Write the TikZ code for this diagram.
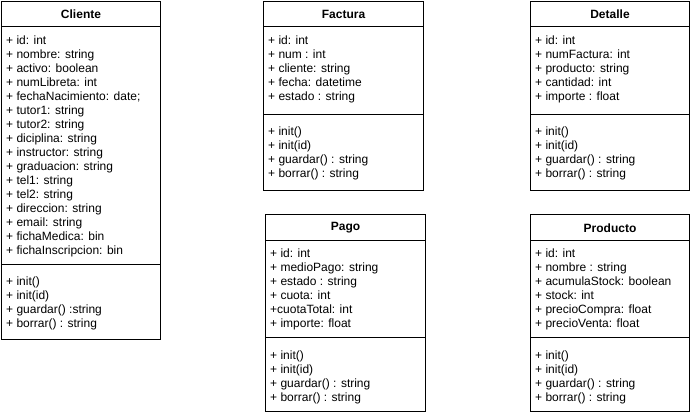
\documentclass[tikz,border=0pt]{standalone}
\usepackage{fontspec}
\setmainfont{Liberation Sans}
\tikzset{
  classbox/.style={draw=black, line width=1pt, fill=white, inner sep=0, outer sep=0},
  classtitle/.style={inner sep=0, font=\fontsize{12}{14}\selectfont\bfseries},
  member/.style={anchor=base west, inner sep=0, font=\fontsize{12}{14}\selectfont},
  sepline/.style={draw=black, line width=1pt}
}
% #1 prefix, #2 x, #3 centre y of first line, #4 list of lines
\newcommand\umlmembers[4]{%
  \foreach \t [count=\i] in {#4} {%
    \node[member] (#1-\i) at (#2, #3+14*\i-14+4.3) {\t};
  }%
}
% #1 name, #2 left, #3 top, #4 right, #5 bottom, #6 header bottom, #7 separator, #8 title
\newcommand\umlbox[8]{%
  \node[classbox, minimum width=#4-#2, minimum height=#5-#3] (#1) at ({(#2+#4)/2},{(#3+#5)/2}) {};
  \coordinate (#1-h) at (#2,#6);
  \coordinate (#1-s) at (#2,#7);
  \draw[sepline] (#1-h) -- (#1-h -| #1.east);
  \draw[sepline] (#1-s) -- (#1-s -| #1.east);
  \node[classtitle] (#1-title) at ({(#2+#4)/2},{(#3+#6)/2+0.5}) {#8};
}
\begin{document}
\begin{tikzpicture}[x=1pt,y=-1pt]
\useasboundingbox (0,0) rectangle (691,417);

% Cliente
\umlbox{cliente}{1.5}{1.5}{160.5}{339.5}{26.5}{264.5}{Cliente}
\umlmembers{cliente-a}{6}{40}{{+ id: int},{+ nombre: string},{+ activo: boolean},{+ numLibreta: int},{+ fechaNacimiento: date;},{+ tutor1: string},{+ tutor2: string},{+ diciplina: string},{+ instructor: string},{+ graduacion: string},{+ tel1: string},{+ tel2: string},{+ direccion: string},{+ email: string},{+ fichaMedica: bin},{+ fichaInscripcion: bin}}
\umlmembers{cliente-m}{6}{281}{{+ init()},{+ init(id)},{+ guardar() :string},{+ borrar() : string}}

% Factura
\umlbox{factura}{263.5}{1.5}{423.5}{190.5}{26.5}{114.5}{Factura}
\umlmembers{factura-a}{268}{40}{{+ id: int},{+ num : int},{+ cliente: string},{+ fecha: datetime},{+ estado : string}}
\umlmembers{factura-m}{268}{131}{{+ init()},{+ init(id)},{+ guardar() : string},{+ borrar() : string}}

% Detalle
\umlbox{detalle}{530.5}{1.5}{689.5}{190.5}{26.5}{114.5}{Detalle}
\umlmembers{detalle-a}{535}{40}{{+ id: int},{+ numFactura: int},{+ producto: string},{+ cantidad: int},{+ importe : float}}
\umlmembers{detalle-m}{535}{131}{{+ init()},{+ init(id)},{+ guardar() : string},{+ borrar() : string}}

% Pago
\umlbox{pago}{265.5}{214.5}{425.5}{411.5}{240.5}{337.5}{Pago}
\umlmembers{pago-a}{270}{253}{{+ id: int},{+ medioPago: string},{+ estado : string},{+ cuota: int},{+cuotaTotal: int},{+ importe: float}}
\umlmembers{pago-m}{270}{355}{{+ init()},{+ init(id)},{+ guardar() : string},{+ borrar() : string}}

% Producto
\umlbox{producto}{530.5}{214.5}{689.5}{411.5}{240.5}{337.5}{Producto}
\umlmembers{producto-a}{535}{253}{{+ id: int},{+ nombre : string},{+ acumulaStock: boolean},{+ stock: int},{+ precioCompra: float},{+ precioVenta: float}}
\umlmembers{producto-m}{535}{355}{{+ init()},{+ init(id)},{+ guardar() : string},{+ borrar() : string}}
\end{tikzpicture}
\end{document}
